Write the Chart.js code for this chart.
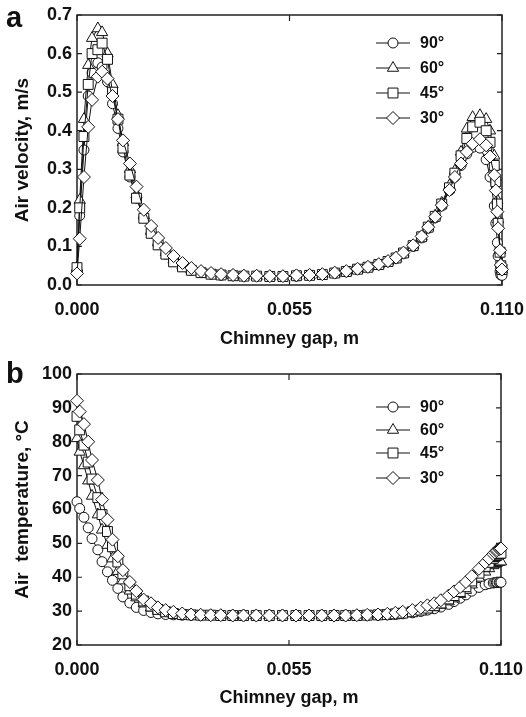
<!DOCTYPE html>
<html>
<head>
<meta charset="utf-8">
<script src="https://cdn.jsdelivr.net/npm/chart.js"></script>
<style>
  body { margin: 0; background: #fff; }
  .panel { position: absolute; left: 0; width: 526px; }
  #wrapA { top: 0; height: 358px; }
  #wrapB { top: 358px; height: 359px; }
</style>
</head>
<body>
<div class="panel" id="wrapA"><canvas id="chartA" width="526" height="358"></canvas></div>
<div class="panel" id="wrapB"><canvas id="chartB" width="526" height="359"></canvas></div>
<script>
// chimney gap positions (m), same mesh for every curve
const gap = [0.0000, 0.0007, 0.0018, 0.0029, 0.0039, 0.0054, 0.0065, 0.0079, 0.0092, 0.0106,
             0.0119, 0.0137, 0.0154, 0.0173, 0.0192, 0.0210, 0.0230, 0.0250, 0.0273, 0.0296,
             0.0321, 0.0347, 0.0373, 0.0404, 0.0432, 0.0465, 0.0499, 0.0533, 0.0568, 0.0602,
             0.0635, 0.0667, 0.0697, 0.0726, 0.0753, 0.0781, 0.0805, 0.0826, 0.0845, 0.0870,
             0.0892, 0.0909, 0.0927, 0.0944, 0.0964, 0.0978, 0.0994, 0.1009, 0.1024, 0.1043,
             0.1059, 0.1069, 0.1080, 0.1084, 0.1088, 0.1090, 0.1095, 0.1097, 0.1100];

const angles = ['90°', '60°', '45°', '30°'];
const markers = ['circle', 'triangle', 'rect', 'rectRot'];
const markerRadius = [5, 6.5, 7, 6.5];

// (a) air velocity, m/s
const velocity90 = [0.035, 0.180, 0.350, 0.490, 0.550, 0.576, 0.565, 0.527, 0.470, 0.406,
                    0.345, 0.280, 0.225, 0.175, 0.135, 0.105, 0.080, 0.062, 0.048, 0.038,
                    0.032, 0.028, 0.025, 0.024, 0.023, 0.023, 0.022, 0.022, 0.023, 0.025,
                    0.027, 0.030, 0.034, 0.040, 0.046, 0.052, 0.060, 0.069, 0.081, 0.100,
                    0.122, 0.147, 0.174, 0.205, 0.245, 0.280, 0.310, 0.340, 0.357, 0.355,
                    0.325, 0.280, 0.205, 0.160, 0.110, 0.075, 0.035, 0.026, 0.025];
const velocity60 = [0.045, 0.220, 0.430, 0.570, 0.640, 0.665, 0.655, 0.600, 0.520, 0.440,
                    0.370, 0.300, 0.235, 0.180, 0.140, 0.110, 0.085, 0.066, 0.050, 0.040,
                    0.033, 0.029, 0.026, 0.025, 0.024, 0.023, 0.022, 0.022, 0.023, 0.025,
                    0.027, 0.030, 0.034, 0.040, 0.046, 0.053, 0.061, 0.070, 0.083, 0.102,
                    0.125, 0.151, 0.180, 0.213, 0.258, 0.296, 0.345, 0.405, 0.435, 0.440,
                    0.430, 0.400, 0.335, 0.280, 0.220, 0.170, 0.090, 0.055, 0.040];
const velocity45 = [0.045, 0.200, 0.385, 0.520, 0.600, 0.610, 0.627, 0.585, 0.500, 0.430,
                    0.355, 0.285, 0.225, 0.173, 0.134, 0.104, 0.080, 0.060, 0.047, 0.038,
                    0.032, 0.028, 0.026, 0.024, 0.023, 0.023, 0.022, 0.022, 0.024, 0.025,
                    0.027, 0.031, 0.035, 0.041, 0.046, 0.053, 0.061, 0.070, 0.083, 0.102,
                    0.125, 0.150, 0.178, 0.210, 0.252, 0.290, 0.335, 0.380, 0.410, 0.422,
                    0.400, 0.370, 0.310, 0.268, 0.210, 0.160, 0.085, 0.050, 0.040];
const velocity30 = [0.030, 0.120, 0.280, 0.410, 0.480, 0.540, 0.553, 0.535, 0.490, 0.430,
                    0.375, 0.315, 0.255, 0.195, 0.153, 0.122, 0.096, 0.075, 0.057, 0.044,
                    0.036, 0.031, 0.028, 0.026, 0.024, 0.024, 0.023, 0.023, 0.025, 0.026,
                    0.028, 0.032, 0.036, 0.042, 0.047, 0.054, 0.062, 0.071, 0.084, 0.103,
                    0.126, 0.150, 0.177, 0.207, 0.246, 0.280, 0.315, 0.345, 0.366, 0.378,
                    0.362, 0.333, 0.285, 0.245, 0.190, 0.147, 0.090, 0.052, 0.040];

// (b) air temperature, °C
const temperature90 = [62.3, 60.3, 57.7, 54.6, 51.4, 48.1, 44.6, 41.6, 39.1, 36.7,
                       34.2, 32.4, 31.1, 30.2, 29.6, 29.2, 29.0, 28.9, 28.8, 28.8,
                       28.7, 28.7, 28.7, 28.7, 28.7, 28.7, 28.7, 28.7, 28.7, 28.7,
                       28.7, 28.7, 28.7, 28.7, 28.7, 28.8, 28.9, 29.0, 29.2, 29.5,
                       29.9, 30.3, 30.7, 31.2, 32.0, 32.8, 33.8, 34.8, 35.9, 37.0,
                       37.8, 38.1, 38.3, 38.4, 38.4, 38.5, 38.5, 38.5, 38.5];
const temperature60 = [81.0, 77.0, 73.0, 68.5, 64.0, 58.5, 54.0, 49.5, 45.5, 41.8,
                       39.0, 36.0, 34.0, 32.2, 31.0, 30.2, 29.6, 29.2, 29.0, 28.8,
                       28.8, 28.7, 28.7, 28.7, 28.7, 28.7, 28.7, 28.7, 28.7, 28.7,
                       28.7, 28.7, 28.7, 28.7, 28.7, 28.8, 28.9, 29.0, 29.2, 29.5,
                       30.0, 30.5, 31.1, 31.8, 32.8, 33.7, 35.0, 36.2, 37.8, 39.8,
                       41.6, 42.6, 43.5, 43.9, 44.1, 44.3, 44.5, 44.6, 44.6];
const temperature45 = [87.5, 83.5, 79.0, 74.0, 69.0, 63.5, 58.5, 53.5, 49.0, 44.5,
                       41.0, 37.5, 35.0, 33.0, 31.5, 30.5, 29.8, 29.3, 29.0, 28.9,
                       28.8, 28.8, 28.7, 28.7, 28.7, 28.7, 28.7, 28.7, 28.7, 28.7,
                       28.7, 28.7, 28.7, 28.7, 28.8, 28.9, 29.0, 29.2, 29.4, 29.8,
                       30.3, 30.9, 31.6, 32.4, 33.6, 34.6, 35.8, 37.2, 38.9, 41.2,
                       43.2, 44.4, 45.6, 46.1, 46.4, 46.6, 46.9, 47.0, 47.1];
const temperature30 = [92.1, 88.9, 85.2, 80.0, 74.6, 68.7, 62.9, 57.0, 51.1, 46.2,
                       42.1, 38.6, 35.9, 33.4, 32.3, 31.1, 30.3, 29.8, 29.3, 29.0,
                       28.9, 28.8, 28.8, 28.7, 28.7, 28.7, 28.7, 28.7, 28.7, 28.7,
                       28.7, 28.7, 28.7, 28.8, 28.9, 29.0, 29.2, 29.5, 29.8, 30.3,
                       31.0, 31.7, 32.3, 33.2, 34.6, 35.8, 37.1, 38.6, 40.3, 42.5,
                       44.3, 45.5, 46.8, 47.3, 47.7, 48.0, 48.3, 48.4, 48.5];

const gapTicks = [0, 0.055, 0.110];
const velocityTicks = [0, 0.1, 0.2, 0.3, 0.4, 0.5, 0.6, 0.7];
const temperatureTicks = [20, 30, 40, 50, 60, 70, 80, 90, 100];

const FONT = "'Liberation Sans', Arial, Helvetica, sans-serif";
const INK = '#111';

function drawMarker(ctx, style, r, x, y) {
    if (Chart.helpers && Chart.helpers.drawPoint) {
        Chart.helpers.drawPoint(ctx, { pointStyle: style, radius: r, borderWidth: 1, rotation: 0 }, x, y);
        return;
    }
    ctx.beginPath();
    if (style === 'circle') ctx.arc(x, y, r, 0, Math.PI * 2);
    else if (style === 'rect') { const s = r * Math.SQRT1_2; ctx.rect(x - s, y - s, 2 * s, 2 * s); }
    else if (style === 'rectRot') { ctx.moveTo(x, y - r); ctx.lineTo(x + r, y); ctx.lineTo(x, y + r); ctx.lineTo(x - r, y); ctx.closePath(); }
    else { ctx.moveTo(x, y - r); ctx.lineTo(x + r * 0.866, y + r / 2); ctx.lineTo(x - r * 0.866, y + r / 2); ctx.closePath(); }
    ctx.fill();
    ctx.stroke();
}

// frame with inward ticks on all four sides
const framePlugin = {
    id: 'frame',
    beforeDatasetsDraw(chart) {
        const { ctx, chartArea: a, scales: { x, y } } = chart;
        ctx.save();
        ctx.strokeStyle = '#222';
        ctx.lineWidth = 1.5;
        ctx.strokeRect(a.left, a.top, a.right - a.left, a.bottom - a.top);
        ctx.lineWidth = 1.2;
        ctx.beginPath();
        y.ticks.forEach(t => {
            const py = y.getPixelForValue(t.value);
            ctx.moveTo(a.left, py); ctx.lineTo(a.left + 5, py);
            ctx.moveTo(a.right, py); ctx.lineTo(a.right - 5, py);
        });
        x.ticks.forEach(t => {
            const px = x.getPixelForValue(t.value);
            ctx.moveTo(px, a.bottom); ctx.lineTo(px, a.bottom - 5);
            ctx.moveTo(px, a.top); ctx.lineTo(px, a.top + 6);
        });
        ctx.stroke();
        ctx.restore();
    },
    afterDraw(chart, args, opts) {
        const { ctx } = chart;
        ctx.save();
        // panel letter
        ctx.fillStyle = INK;
        ctx.font = 'bold 29px ' + FONT;
        ctx.textBaseline = 'alphabetic';
        ctx.fillText(opts.letter, 6, opts.letterY);
        // legend: line with marker, then angle
        ctx.font = 'bold 16px ' + FONT;
        ctx.textBaseline = 'middle';
        angles.forEach((label, i) => {
            const ly = opts.legendY[i];
            ctx.strokeStyle = INK;
            ctx.lineWidth = 1;
            ctx.beginPath();
            ctx.moveTo(376, ly); ctx.lineTo(410, ly);
            ctx.stroke();
            ctx.fillStyle = '#fff';
            drawMarker(ctx, markers[i], markerRadius[i], 393, ly);
            ctx.fillStyle = INK;
            ctx.fillText(label, 420, ly + 1);
        });
        ctx.restore();
    }
};

function makeDatasets(series) {
    return series.map((vals, i) => ({
        label: angles[i],
        data: gap.map((g, k) => ({ x: g, y: vals[k] })),
        borderColor: INK,
        borderWidth: 1,
        backgroundColor: '#fff',
        pointStyle: markers[i],
        pointRadius: markerRadius[i],
        pointBackgroundColor: '#fff',
        pointBorderColor: INK,
        pointBorderWidth: 1,
        tension: 0,
        clip: false,
        order: 3 - i
    }));
}

function makeChart(id, series, yTicks, yFmt, yTitle, cfg) {
    return new Chart(document.getElementById(id), {
        type: 'line',
        data: { datasets: makeDatasets(series) },
        plugins: [framePlugin],
        options: {
            responsive: false,
            animation: false,
            devicePixelRatio: 1,
            layout: { padding: { top: cfg.top, right: cfg.right, left: 0, bottom: 0 } },
            plugins: {
                legend: { display: false },
                tooltip: { enabled: false },
                frame: { letter: cfg.letter, letterY: cfg.letterY, legendY: cfg.legendY }
            },
            scales: {
                x: {
                    type: 'linear',
                    min: 0,
                    max: 0.110,
                    afterBuildTicks: s => { s.ticks = gapTicks.map(v => ({ value: v })); },
                    afterFit: s => { s.height = cfg.xHeight; s.paddingLeft = 0; s.paddingRight = 0; },
                    grid: { display: false, drawTicks: false },
                    border: { display: false },
                    ticks: {
                        color: INK, padding: 14, maxRotation: 0,
                        font: { family: FONT, size: 18, weight: 'bold' },
                        callback: v => v.toFixed(3)
                    },
                    title: {
                        display: true, text: 'Chimney gap, m', color: INK,
                        font: { family: FONT, size: 18, weight: 'bold' },
                        padding: { top: 0, bottom: 8 }
                    }
                },
                y: {
                    type: 'linear',
                    min: yTicks[0],
                    max: yTicks[yTicks.length - 1],
                    afterBuildTicks: s => { s.ticks = yTicks.map(v => ({ value: v })); },
                    afterFit: s => { s.width = 77; s.paddingTop = 0; s.paddingBottom = 0; },
                    grid: { display: false, drawTicks: false },
                    border: { display: false },
                    ticks: {
                        color: INK, padding: 5,
                        font: { family: FONT, size: 18, weight: 'bold' },
                        callback: yFmt
                    },
                    title: {
                        display: true, text: yTitle, color: INK,
                        font: { family: FONT, size: 19, weight: 'bold' },
                        padding: { top: 11, bottom: 0 }
                    }
                }
            }
        }
    });
}

makeChart('chartA', [velocity90, velocity60, velocity45, velocity30], velocityTicks,
    v => v.toFixed(1), 'Air velocity, m/s',
    { top: 15, right: 24, xHeight: 73, letter: 'a', letterY: 27, legendY: [43, 68, 93, 118] });

makeChart('chartB', [temperature90, temperature60, temperature45, temperature30], temperatureTicks,
    v => String(Math.round(v)), 'Air  temperature, °C',
    { top: 16, right: 25, xHeight: 72, letter: 'b', letterY: 25, legendY: [49, 72, 95, 120] });
</script>
</body>
</html>
